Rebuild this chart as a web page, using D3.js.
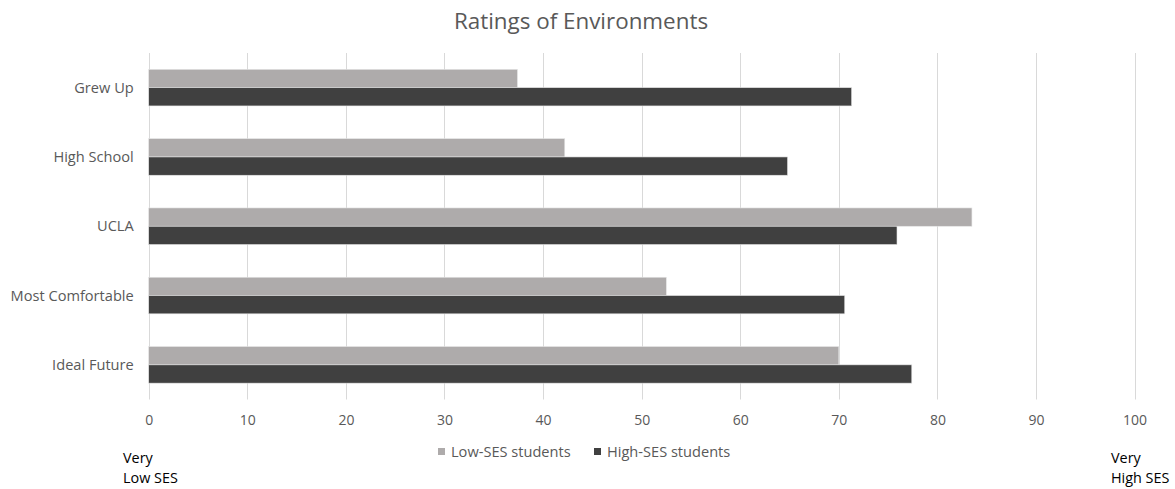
<!DOCTYPE html>
<html>
<head>
<meta charset="utf-8">
<script src="https://cdn.jsdelivr.net/npm/d3@7"></script>
<style>
  html, body { margin: 0; padding: 0; background: #ffffff; }
  svg { display: block; }
  text { font-family: "Open Sans", "Noto Sans", sans-serif; }
</style>
</head>
<body>
<svg id="chart" width="1175" height="489"></svg>
<script>
// Environments rated on an SES scale (0 = very low, 100 = very high)
const categories = ["Grew Up", "High School", "UCLA", "Most Comfortable", "Ideal Future"];
const seriesNames = ["Low-SES students", "High-SES students"];
const lowSES  = [37.4, 42.2, 83.5, 52.5, 70.0];
const highSES = [71.3, 64.8, 75.9, 70.6, 77.4];
const xTicks = [0, 10, 20, 30, 40, 50, 60, 70, 80, 90, 100];
const seriesColors = ["#aeabab", "#404040"];

const rows = categories.map((c, i) => ({ category: c, values: [lowSES[i], highSES[i]] }));

const FONT = "'Open Sans', 'Noto Sans', sans-serif";
const svg = d3.select("#chart");
const plot = { left: 148.7, right: 1134.6, top: 53, bottom: 399.5 };

const x = d3.scaleLinear().domain([0, 100]).range([plot.left, plot.right]);
const gap = 0.472;
const y = d3.scaleBand().domain(categories).range([plot.top, plot.bottom])
  .paddingInner(gap).paddingOuter(gap / 2);
const ySub = d3.scaleBand().domain([0, 1]).range([0, y.bandwidth()]);
const color = d3.scaleOrdinal().domain([0, 1]).range(seriesColors);

// title
svg.append("text")
  .attr("x", 581).attr("y", 29)
  .attr("text-anchor", "middle")
  .attr("fill", "#595959")
  .attr("font-size", 22.4)
  .text("Ratings of Environments");

// vertical gridlines
svg.append("g")
  .selectAll("line")
  .data(xTicks)
  .join("line")
  .attr("x1", d => Math.round(x(d)) + 0.5)
  .attr("x2", d => Math.round(x(d)) + 0.5)
  .attr("y1", plot.top)
  .attr("y2", plot.bottom)
  .attr("stroke", "#d9d9d9")
  .attr("stroke-width", 1);

// x axis labels
const xAxis = d3.axisBottom(x).tickValues(xTicks).tickSize(0).tickPadding(0);
const gx = svg.append("g")
  .attr("transform", `translate(0,${plot.bottom})`)
  .call(xAxis);
gx.select(".domain").remove();
gx.selectAll("text")
  .attr("y", 25)
  .attr("dy", 0)
  .attr("fill", "#595959")
  .attr("font-size", 14)
  .style("font-family", FONT);

// category labels
const yAxis = d3.axisLeft(y).tickSize(0).tickPadding(0);
const gy = svg.append("g")
  .attr("transform", `translate(${plot.left - 15},0)`)
  .call(yAxis);
gy.select(".domain").remove();
gy.selectAll("text")
  .attr("fill", "#595959")
  .attr("font-size", 14.6)
  .attr("dy", "0.35em")
  .style("font-family", FONT);

// bars
const groups = svg.append("g")
  .selectAll("g")
  .data(rows)
  .join("g")
  .attr("transform", d => `translate(0,${y(d.category)})`);

groups.selectAll("rect")
  .data(d => d.values.map((v, k) => ({ k, v })))
  .join("rect")
  .attr("x", x(0))
  .attr("y", d => ySub(d.k))
  .attr("width", d => x(d.v) - x(0))
  .attr("height", ySub.bandwidth())
  .attr("fill", d => color(d.k))
  .attr("stroke", "#e4e4e4")
  .attr("stroke-width", 0.6);

// legend
const legendItems = [
  { name: seriesNames[0], k: 0, x: 438 },
  { name: seriesNames[1], k: 1, x: 594 }
];
const lg = svg.append("g").selectAll("g")
  .data(legendItems)
  .join("g")
  .attr("transform", d => `translate(${d.x},448)`);
lg.append("rect")
  .attr("width", 7).attr("height", 7)
  .attr("fill", d => color(d.k));
lg.append("text")
  .attr("x", 13).attr("y", 8.5)
  .attr("fill", "#595959")
  .attr("font-size", 14.6)
  .text(d => d.name);

// scale end notes
const notes = [
  { lines: ["Very", "Low SES"], x: 123 },
  { lines: ["Very", "High SES"], x: 1111 }
];
notes.forEach(n => {
  const t = svg.append("text")
    .attr("x", n.x).attr("y", 463)
    .attr("fill", "#000000")
    .attr("font-size", 14.4);
  n.lines.forEach((l, i) => {
    t.append("tspan").attr("x", n.x).attr("dy", i === 0 ? 0 : 20).text(l);
  });
});
</script>
</body>
</html>
